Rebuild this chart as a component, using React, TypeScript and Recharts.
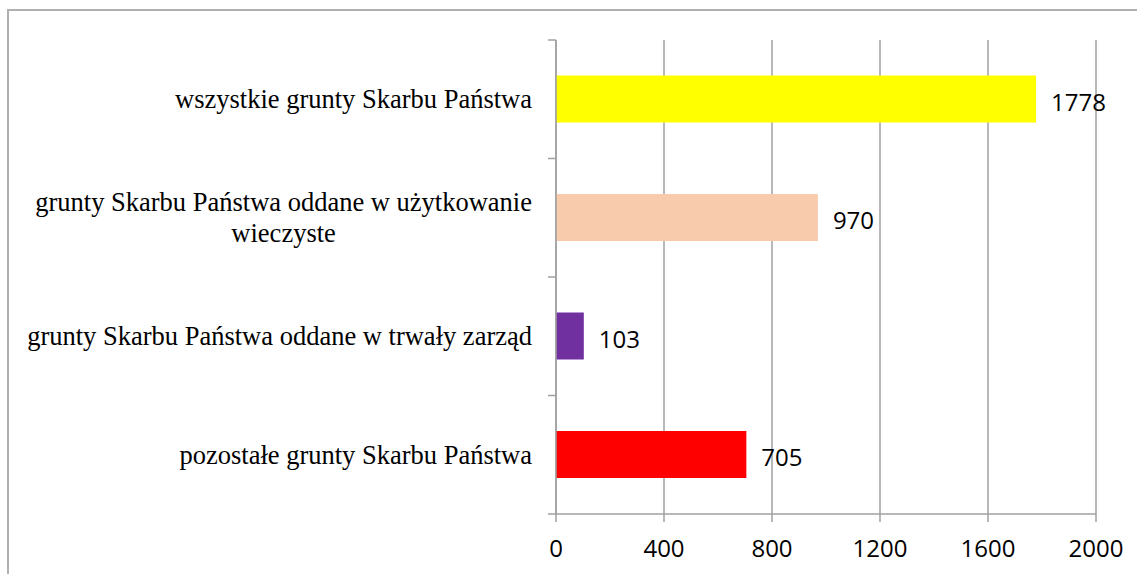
import { BarChart, Bar, XAxis, YAxis, CartesianGrid, Cell, LabelList } from "recharts";

const categories = [
  "wszystkie grunty Skarbu Państwa",
  "grunty Skarbu Państwa oddane w użytkowanie wieczyste",
  "grunty Skarbu Państwa oddane w trwały zarząd",
  "pozostałe grunty Skarbu Państwa",
];
const values = [1778, 970, 103, 705];
const barColors = ["#FFFF00", "#F8CBAD", "#7030A0", "#FF0000"];
const xTicks = [0, 400, 800, 1200, 1600, 2000];

const data = categories.map((name, i) => ({ name, value: values[i] }));

const AXIS_COLOR = "#a0a0a0";
const LABEL_FONT_SIZE = 26.5;
const LABEL_FONT = `${LABEL_FONT_SIZE}px 'Liberation Serif'`;

const measureCtx =
  typeof document !== "undefined" ? document.createElement("canvas").getContext("2d") : null;

function textWidth(s: string) {
  if (!measureCtx) return s.length * 12;
  measureCtx.font = LABEL_FONT;
  return measureCtx.measureText(s).width;
}

// wrap a category name the way excel does it: break on spaces when too wide
function wrap(text: string, max: number) {
  const words = text.split(" ");
  const lines: string[] = [];
  let cur = "";
  for (const w of words) {
    const next = cur ? cur + " " + w : w;
    if (cur && textWidth(next) > max) {
      lines.push(cur);
      cur = w;
    } else {
      cur = next;
    }
  }
  if (cur) lines.push(cur);
  return lines;
}

function CategoryTick(props: any) {
  const { x, y, payload, index, visibleTicksCount } = props;
  const half = payload?.offset ?? 59;
  const axisX = x + 24;
  const lines = wrap(String(payload.value), 520);
  const widest = Math.max(...lines.map(textWidth));
  const n = lines.length;
  return (
    <g>
      <line x1={axisX - 8} x2={axisX} y1={y - half} y2={y - half} stroke={AXIS_COLOR} strokeWidth={1.5} />
      {index === visibleTicksCount - 1 && (
        <line x1={axisX - 8} x2={axisX} y1={y + half} y2={y + half} stroke={AXIS_COLOR} strokeWidth={1.5} />
      )}
      {lines.map((l, i) => (
        <text
          key={i}
          x={x - widest / 2}
          y={y + 9 + (i - (n - 1) / 2) * 31}
          textAnchor="middle"
          fontFamily="'Liberation Serif', serif"
          fontSize={LABEL_FONT_SIZE}
          fill="#000"
        >
          {l}
        </text>
      ))}
    </g>
  );
}

export default function App() {
  return (
    <div style={{ position: "absolute", left: 0, top: 0, width: 1137, height: 574, overflow: "hidden", background: "#fff" }}>
      <div
        style={{
          position: "absolute",
          left: 7,
          top: 9,
          width: 1160,
          height: 600,
          border: "2px solid #b0b0b0",
        }}
      />
      <div style={{ position: "absolute", left: 0, top: 0 }}>
        <BarChart
          width={1137}
          height={574}
          data={data}
          layout="vertical"
          margin={{ top: 40, right: 41, left: 0, bottom: 0 }}
          barCategoryGap="30%"
        >
          <CartesianGrid horizontal={false} stroke={AXIS_COLOR} strokeWidth={1.5} />
          <XAxis
            type="number"
            domain={[0, 2000]}
            ticks={xTicks}
            interval={0}
            height={60}
            tickSize={8}
            tickMargin={18}
            stroke={AXIS_COLOR}
            strokeWidth={1.5}
            tick={{ fill: "#000", fontFamily: "'Open Sans', sans-serif", fontSize: 24 }}
          />
          <YAxis
            type="category"
            dataKey="name"
            width={556}
            tickSize={8}
            tickMargin={16}
            tickLine={false}
            stroke={AXIS_COLOR}
            strokeWidth={1.5}
            interval={0}
            tick={<CategoryTick />}
          />
          <Bar dataKey="value" isAnimationActive={false}>
            {data.map((d, i) => (
              <Cell key={d.name} fill={barColors[i]} />
            ))}
            <LabelList
              dataKey="value"
              position="right"
              offset={15}
              dy={3}
              fill="#000"
              fontFamily="'Open Sans', sans-serif"
              fontSize={24}
            />
          </Bar>
        </BarChart>
      </div>
    </div>
  );
}
